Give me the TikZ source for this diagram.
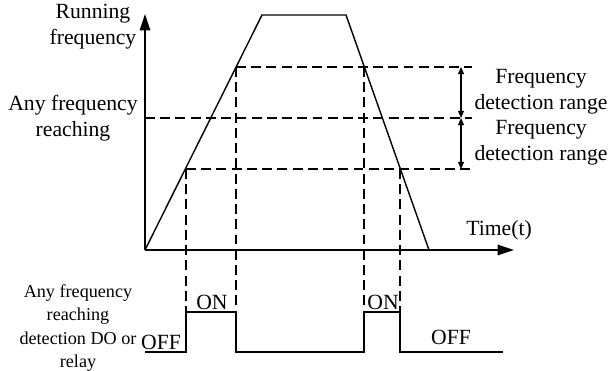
\documentclass[tikz,border=0pt]{standalone}
\usepackage{fontspec}
\setmainfont{Liberation Serif}
\usetikzlibrary{arrows.meta}

\begin{document}
\begin{tikzpicture}[x=0.03cm, y=-0.03cm,
    every node/.style={font=\fontsize{18.5}{22}\selectfont, align=center, inner sep=0pt},
    solidline/.style={line width=1.2pt},
    dashline/.style={line width=1pt, dash pattern=on 8.5pt off 4.5pt},
    axisarrow/.style={solidline, -{Triangle[length=14pt, width=9pt]}},
    rangearrow/.style={line width=1pt, {Triangle[length=6pt, width=5pt]}-{Triangle[length=6pt, width=5pt]}}]
    \useasboundingbox (0,0) rectangle (611,371);
    % axes
    \coordinate (org) at (145,250);
    \coordinate (ytip) at (145,14);
    \coordinate (xtip) at (514,250);
    \draw[axisarrow] (org) -- (ytip);
    \draw[axisarrow] (org) -- (xtip);
    % frequency curve
    \coordinate (rtop) at (262,15);
    \coordinate (ftop) at (346,15);
    \coordinate (fend) at (429,250);
    \draw[solidline] (org) -- (rtop) -- (ftop) -- (fend);
    % detection levels
    \coordinate (uphi) at (236,67);
    \coordinate (uplo) at (186,169);
    \coordinate (dnhi) at (364,67);
    \coordinate (dnlo) at (400,169);
    \coordinate (midl) at (145,118);
    \coordinate (hir) at (472,67);
    \coordinate (midr) at (472,118);
    \coordinate (lor) at (472,169);
    \draw[dashline] (uphi) -- (hir);
    \draw[dashline] (midl) -- (midr);
    \draw[dashline] (uplo) -- (lor);
    \draw[rangearrow] (461,67) -- (461,118);
    \draw[rangearrow] (461,118) -- (461,169);
    % output pulse
    \coordinate (p1) at (186,312);
    \coordinate (p2) at (236,312);
    \coordinate (p3) at (364,312);
    \coordinate (p4) at (400,312);
    \draw[dashline] (uplo) -- (p1);
    \draw[dashline] (uphi) -- (p2);
    \draw[dashline] (dnhi) -- (p3);
    \draw[dashline] (dnlo) -- (p4);
    \draw[solidline] (145,352) -- (186,352) -- (p1) -- (p2) -- (236,352)
      -- (364,352) -- (p3) -- (p4) -- (400,352) -- (503,352);
    % labels
    \node (runlab) at (93,27) {Running\\frequency};
    \node (anylab) at (73,118) {Any frequency\\reaching};
    \node (rangehi) at (541,92) {Frequency\\detection range};
    \node (rangelo) at (541,143) {Frequency\\detection range};
    \node (timelab) at (499,230) {Time(t)};
    \node[font=\fontsize{15.5}{20}\selectfont] (dolab) at (78,328)
      {Any frequency\\reaching\\detection DO or\\relay};
    \node (off1) at (161,342) {OFF};
    \node (on1) at (212,302) {ON};
    \node (on2) at (383,302) {ON};
    \node (off2) at (451,337) {OFF};
\end{tikzpicture}
\end{document}
